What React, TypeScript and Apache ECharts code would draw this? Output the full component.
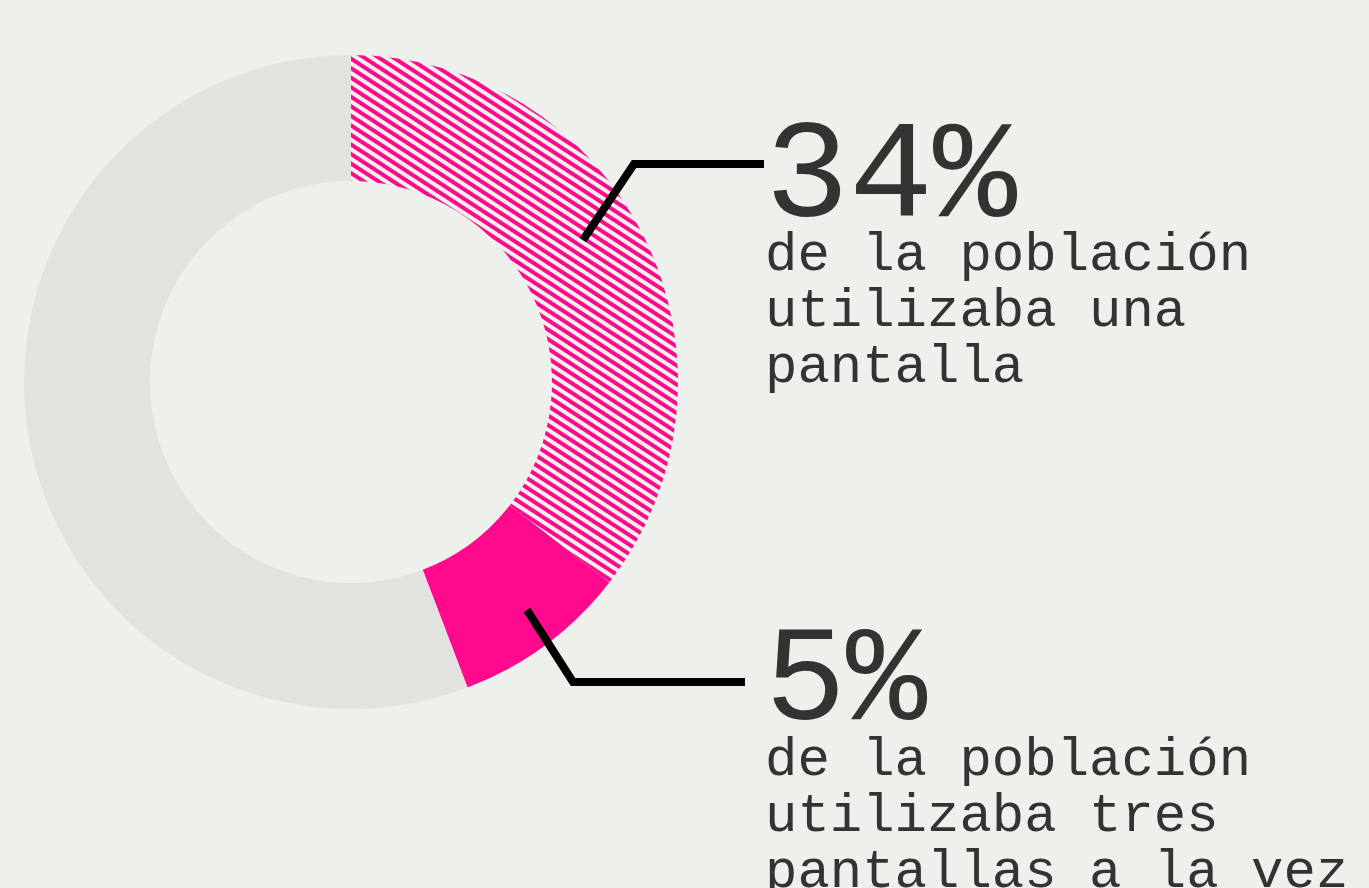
import React, { useEffect, useRef } from "react";
import * as echarts from "echarts";

// Share of the ring (clockwise from the top)
const segmentNames = ["una pantalla", "tres pantallas a la vez", "resto"];
const segmentValues = [35.5, 8.7, 55.8];

// Annotation texts
const bigLabels = ["34%", "5%"];
const noteLines = [
  ["de la población", "utilizaba una", "pantalla"],
  ["de la población", "utilizaba tres", "pantallas a la vez"],
];

const BG = "#eef0ec";
const PINK = "#ff0a8c";
const GREY = "#e2e3df";
const INK = "#333333";
const FONT = '"Liberation Mono", "Courier New", monospace';

function stripePattern() {
  const w = 24;
  const h = 8;
  const c = document.createElement("canvas");
  c.width = w;
  c.height = h;
  const ctx = c.getContext("2d")!;
  ctx.fillStyle = BG;
  ctx.fillRect(0, 0, w, h);
  ctx.fillStyle = PINK;
  ctx.fillRect(0, 0, w, 4);
  return {
    image: c.toDataURL(),
    imageWidth: w,
    imageHeight: h,
    repeat: "repeat",
    rotation: (33 * Math.PI) / 180,
  };
}

export default function App() {
  const ref = useRef<HTMLDivElement>(null);

  useEffect(() => {
    if (!ref.current) return;
    const chart = echarts.init(ref.current, undefined, { renderer: "svg" });
    const stripes = stripePattern();

    const option: any = {
      animation: false,
      backgroundColor: BG,
      series: [
        {
          type: "pie",
          center: [351, 382],
          radius: [201, 327],
          startAngle: 90,
          clockwise: true,
          silent: true,
          label: { show: false },
          labelLine: { show: false },
          itemStyle: { borderWidth: 0 },
          data: segmentValues.map((v, i) => ({
            name: segmentNames[i],
            value: v,
            itemStyle: { color: i === 0 ? stripes : i === 1 ? PINK : GREY },
          })),
        },
      ],
      graphic: [
        {
          type: "polyline",
          shape: { points: [[583, 240], [634, 164], [764, 164]] },
          style: { stroke: "#000", lineWidth: 8, fill: null, lineJoin: "miter" },
          z: 10,
        },
        {
          type: "polyline",
          shape: { points: [[527, 610], [573, 682], [745, 682]] },
          style: { stroke: "#000", lineWidth: 8, fill: null, lineJoin: "miter" },
          z: 10,
        },
        {
          type: "text",
          x: 765,
          y: 130,
          style: {
            text: bigLabels[0],
            font: `140px ${FONT}`,
            lineHeight: 96,
            fill: INK,
            verticalAlign: "top",
            align: "left",
          },
          z: 10,
        },
        {
          type: "text",
          x: 765,
          y: 227,
          style: {
            text: noteLines[0].join("\n"),
            font: `54px ${FONT}`,
            lineHeight: 56,
            fill: INK,
            verticalAlign: "top",
            align: "left",
          },
          z: 10,
        },
        {
          type: "text",
          x: 765,
          y: 635,
          style: {
            text: bigLabels[1],
            font: `135px ${FONT}`,
            lineHeight: 96,
            fill: INK,
            verticalAlign: "top",
            align: "left",
          },
          z: 10,
        },
        {
          type: "text",
          x: 765,
          y: 732,
          style: {
            text: noteLines[1].join("\n"),
            font: `54px ${FONT}`,
            lineHeight: 56,
            fill: INK,
            verticalAlign: "top",
            align: "left",
          },
          z: 10,
        },
      ],
    };

    chart.setOption(option);
    return () => chart.dispose();
  }, []);

  return (
    <div
      ref={ref}
      style={{ position: "fixed", left: 0, top: 0, width: 1369, height: 888 }}
    />
  );
}
